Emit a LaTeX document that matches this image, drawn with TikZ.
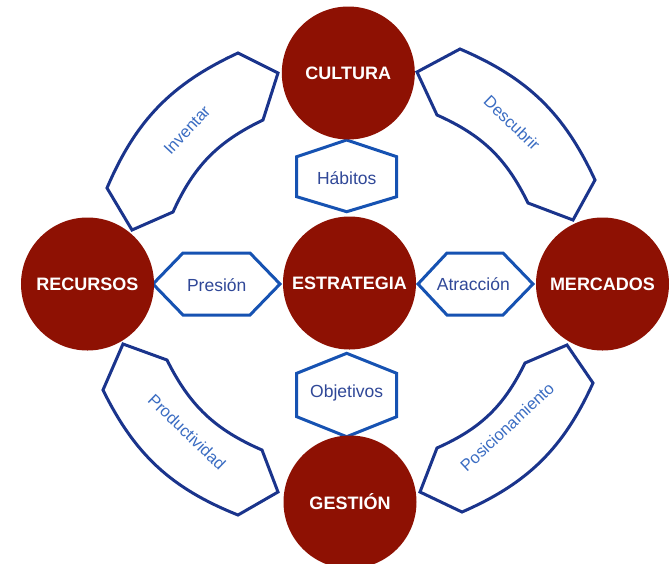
\documentclass[tikz,border=0pt]{standalone}
\usepackage{fontspec}
\setmainfont{Liberation Sans}
\definecolor{coreRed}{RGB}{142,17,3}
\definecolor{bandBlue}{RGB}{26,52,140}
\definecolor{hexBlue}{RGB}{22,82,178}
\definecolor{hexText}{RGB}{48,72,152}
\definecolor{bandText}{RGB}{58,108,194}
\begin{document}
\begin{tikzpicture}[scale=0.35146]
\tikzstyle{every node}+=[inner sep=0pt]
\tikzstyle{core}=[circle, fill=coreRed, minimum size=133pt, text=white, font=\bfseries\fontsize{18}{20}\selectfont]
\tikzstyle{hexa}=[draw=hexBlue, line width=3pt, fill=white]
\tikzstyle{band}=[draw=bandBlue, line width=3pt]
\tikzstyle{hexlabel}=[text=hexText, font=\fontsize{17.5}{20}\selectfont]
\tikzstyle{bandlabel}=[text=bandText, font=\fontsize{16.5}{19}\selectfont]
\useasboundingbox (0,0) rectangle (67.1,-56.4);
\draw [band] (27.8,-7.3) -- (26.3,-12.0) to[bend right=20] (17.3,-21.2) -- (13.2,-23.0) -- (10.7,-18.8) to[bend left=21] (23.8,-5.3) -- cycle;
\draw [band] (41.7,-7.2) -- (46.0,-4.9) to[bend left=21] (59.5,-18.0) -- (57.3,-22.0) -- (52.8,-20.3) to[bend right=20] (43.7,-11.5) -- cycle;
\draw [band] (12.3,-34.4) -- (16.7,-36.0) to[bend right=20] (26.2,-45.0) -- (27.8,-49.2) -- (23.8,-51.5) to[bend left=21] (10.3,-39.0) -- cycle;
\draw [band] (56.7,-34.5) -- (52.5,-36.3) to[bend left=20] (43.7,-44.8) -- (42.0,-49.2) -- (46.2,-51.2) to[bend right=21] (59.3,-38.3) -- cycle;
\node (inventar) [bandlabel, rotate=47] at (18.7,-13.0) {Inventar};
\node (descubrir) [bandlabel, rotate=-44] at (51.2,-12.3) {Descubrir};
\node (productividad) [bandlabel, rotate=-44] at (18.7,-43.2) {Productividad};
\node (posicionamiento) [bandlabel, rotate=43] at (50.7,-42.7) {Posicionamiento};
\draw [hexa] (34.67,-14.0) -- (39.67,-15.67) -- (39.67,-19.67) -- (34.67,-21.17) -- (29.67,-19.67) -- (29.67,-15.67) -- cycle;
\draw [hexa] (34.67,-35.33) -- (39.67,-37.33) -- (39.67,-41.67) -- (34.67,-43.67) -- (29.67,-41.67) -- (29.67,-37.33) -- cycle;
\draw [hexa] (15.3,-28.4) -- (18.3,-25.3) -- (25.0,-25.3) -- (28.0,-28.4) -- (25.0,-31.5) -- (18.3,-31.5) -- cycle;
\draw [hexa] (41.8,-28.4) -- (44.7,-25.3) -- (50.3,-25.3) -- (53.3,-28.4) -- (50.3,-31.5) -- (44.7,-31.5) -- cycle;
\node (habitos) [hexlabel] at (34.67,-17.8) {Hábitos};
\node (objetivos) [hexlabel] at (34.67,-39.3) {Objetivos};
\node (presion) [hexlabel] at (21.67,-28.5) {Presión};
\node (atraccion) [hexlabel] at (47.33,-28.4) {Atracción};
\node (cultura) [core] at (34.83,-7.3) {CULTURA};
\node (estrategia) [core] at (34.95,-28.3) {ESTRATEGIA};
\node (recursos) [core] at (8.75,-28.4) {RECURSOS};
\node (mercados) [core] at (60.25,-28.4) {MERCADOS};
\node (gestion) [core] at (35.0,-50.2) {GESTIÓN};
\end{tikzpicture}
\end{document}
